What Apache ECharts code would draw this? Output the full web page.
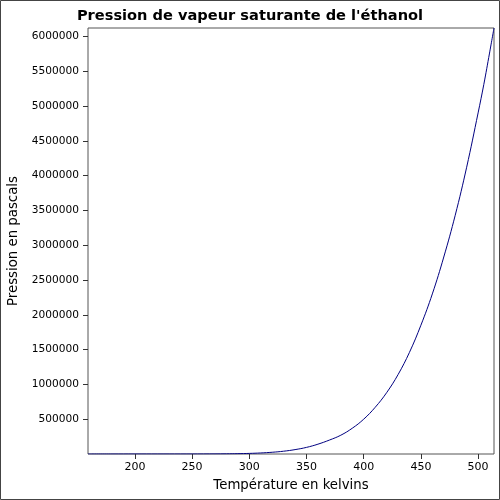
<!DOCTYPE html>
<html><head><meta charset="utf-8">
<script src="https://cdn.jsdelivr.net/npm/echarts@6/dist/echarts.min.js"></script>
<style>html,body{margin:0;padding:0;background:#fff}#c{width:500px;height:500px}</style>
</head><body><div id="c"></div>
<script>
const temperatures = [159, 180, 200, 220, 240, 260, 280, 290, 300, 310, 320, 330, 340, 350, 360, 370, 380, 390, 400, 410, 420, 430, 440, 450, 460, 470, 480, 490, 500, 505, 510, 513.9];
const pressures = [0, 0, 1, 11, 100, 580, 2500, 4800, 8700, 15000, 25000, 40000, 63000, 95000, 141000, 200000, 270000, 370000, 500000, 670000, 880000, 1140000, 1460000, 1850000, 2300000, 2830000, 3430000, 4120000, 4900000, 5310000, 5760000, 6120000];
const xTicks = [200, 250, 300, 350, 400, 450, 500];
const yTicks = [500000, 1000000, 1500000, 2000000, 2500000, 3000000, 3500000, 4000000, 4500000, 5000000, 5500000, 6000000];

const chart = echarts.init(document.getElementById('c'), null, {renderer: 'canvas'});
const font = 'DejaVu Sans';
chart.setOption({
  animation: false,
  backgroundColor: '#fff',
  title: {
    text: "Pression de vapeur saturante de l'éthanol",
    left: 'center', top: 4,
    textStyle: {fontFamily: font, fontWeight: 'bold', fontSize: 14.6, color: '#000'}
  },
  grid: {left: 88, right: 6, top: 28, bottom: 46, outerBoundsMode: 'none', containLabel: false, show: true, borderColor: '#555', borderWidth: 1, backgroundColor: 'transparent'},
  xAxis: {
    type: 'value', min: 159, max: 513.9,
    name: 'Température en kelvins', nameLocation: 'middle', nameGap: 25,
    nameTextStyle: {fontFamily: font, fontSize: 13.3, color: '#000'},
    axisLine: {show: false},
    splitLine: {show: false},
    axisTick: {show: true, length: 5, customValues: xTicks, lineStyle: {color: '#333'}},
    axisLabel: {customValues: xTicks, fontFamily: font, fontSize: 11, color: '#000', margin: 8, formatter: v => String(v)}
  },
  yAxis: {
    type: 'value', min: 0, max: 6120000,
    name: 'Pression en pascals', nameLocation: 'middle', nameGap: 68,
    nameTextStyle: {fontFamily: font, fontSize: 13.3, color: '#000'},
    axisLine: {show: false},
    splitLine: {show: false},
    axisTick: {show: true, length: 5, customValues: yTicks, lineStyle: {color: '#333'}},
    axisLabel: {customValues: yTicks, fontFamily: font, fontSize: 10.6, color: '#000', margin: 9, formatter: v => String(v)}
  },
  graphic: [{type: 'rect', shape: {x: 0.5, y: 0.5, width: 499, height: 499}, style: {fill: 'none', stroke: '#444', lineWidth: 1}, silent: true}],
  series: [{
    type: 'line', data: temperatures.map((t, i) => [t, pressures[i]]),
    smooth: 0.4, showSymbol: false,
    lineStyle: {color: '#000080', width: 1}
  }]
});
</script></body></html>
